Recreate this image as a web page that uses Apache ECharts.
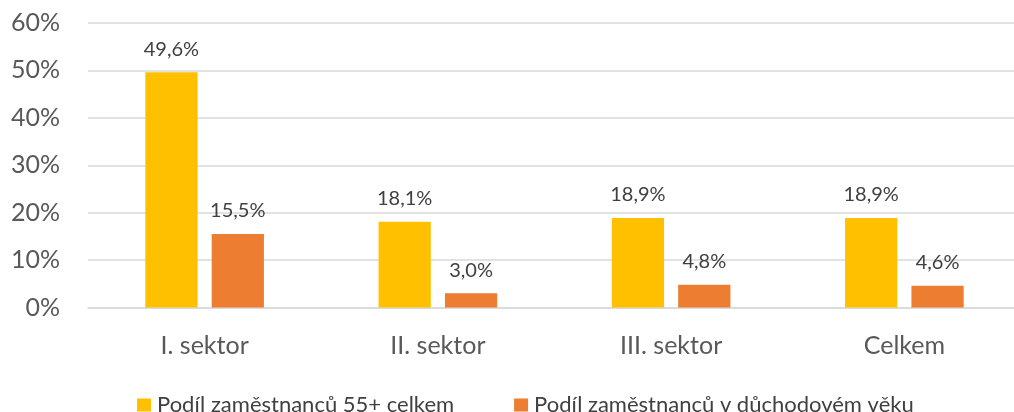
<!DOCTYPE html>
<html>
<head>
<meta charset="utf-8">
<script src="https://cdn.jsdelivr.net/npm/echarts@6/dist/echarts.min.js"></script>
<style>
  html, body { margin: 0; padding: 0; background: #fff; }
  #chart { width: 1014px; height: 412px; }
</style>
</head>
<body>
<div id="chart"></div>
<script>
// Share of employees aged 55+ and of employees at retirement age, by sector
const categories = ['I. sektor', 'II. sektor', 'III. sektor', 'Celkem'];
const seriesNames = ['Podíl zaměstnanců 55+ celkem', 'Podíl zaměstnanců v důchodovém věku'];
const share55 = [49.6, 18.1, 18.9, 18.9];
const shareRetirement = [15.5, 3.0, 4.8, 4.6];
const yTicks = [0, 10, 20, 30, 40, 50, 60];

const FONT = 'Lato';
const fmtPct = v => v.toFixed(1).replace('.', ',') + '%';

const chart = echarts.init(document.getElementById('chart'));

const barLabel = {
  show: true,
  position: 'top',
  distance: 13,
  color: '#404040',
  fontFamily: FONT,
  fontSize: 20,
  formatter: p => fmtPct(p.value)
};

chart.setOption({
  animation: false,
  textStyle: { fontFamily: FONT },
  // the plot area runs a little past the right edge of the canvas
  grid: { left: 88, top: 23, width: 933, height: 284.5, containLabel: false, outerBoundsMode: 'none' },
  legend: {
    top: 389,
    left: 132,
    itemWidth: 14,
    itemHeight: 13,
    itemGap: 60,
    icon: 'rect',
    textStyle: { fontFamily: FONT, fontSize: 22, color: '#404040', padding: [0, 0, 0, 1] },
    data: seriesNames
  },
  xAxis: {
    type: 'category',
    data: categories,
    axisTick: { show: false },
    axisLine: { show: true, lineStyle: { color: '#d9d9d9', width: 1.5 } },
    axisLabel: { color: '#595959', fontFamily: FONT, fontSize: 25, margin: 26 }
  },
  yAxis: {
    type: 'value',
    min: yTicks[0],
    max: yTicks[yTicks.length - 1],
    interval: 10,
    axisLine: { show: false },
    axisTick: { show: false },
    splitLine: { lineStyle: { color: '#d9d9d9', width: 1.5 } },
    axisLabel: { color: '#595959', fontFamily: FONT, fontSize: 25, margin: 28, formatter: v => v + '%' }
  },
  series: [
    {
      name: seriesNames[0],
      type: 'bar',
      data: share55,
      barWidth: '22.4%',
      barGap: '27%',
      itemStyle: { color: '#FFC000' },
      label: barLabel
    },
    {
      name: seriesNames[1],
      type: 'bar',
      data: shareRetirement,
      barWidth: '22.4%',
      itemStyle: { color: '#ED7D31' },
      label: barLabel
    }
  ]
});
</script>
</body>
</html>
